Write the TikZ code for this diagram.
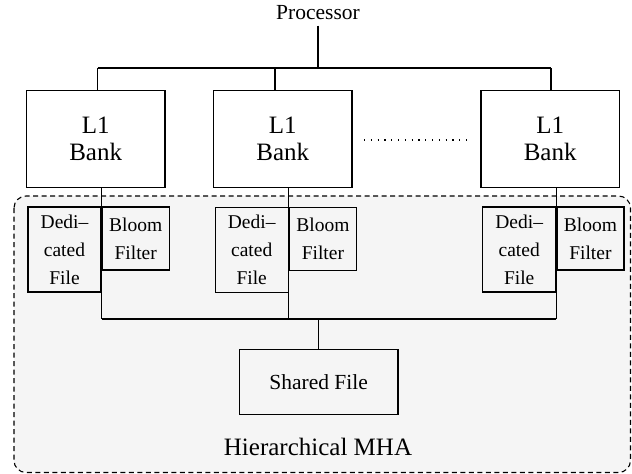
\documentclass[tikz,border=0pt]{standalone}
\usepackage{fontspec}
\setmainfont{Liberation Serif}
\begin{document}
\begin{tikzpicture}[x=1pt,y=-1pt,
  line width=1.2pt,
  box/.style={draw, inner sep=0pt, align=center},
  bank/.style={box, minimum width=138.5pt, minimum height=96.6pt, font=\fontsize{25}{27}\selectfont},
  ded/.style={box, minimum width=73pt, minimum height=85pt, font=\fontsize{19.5}{28}\selectfont},
  bloom/.style={box, minimum width=67pt, minimum height=63pt, font=\fontsize{19.5}{28}\selectfont},
  wire/.style={draw, line width=1.2pt},
  region/.style={draw, dashed, dash pattern=on 5pt off 3.5pt, fill=black!4, rounded corners=12pt, line width=1.1pt}
]
\useasboundingbox (0,0) rectangle (632,474);
% hierarchical MHA region
\path[region] (14,196) rectangle (630.5,472.5);
\node[font=\fontsize{25}{30}\selectfont] (mha) at (318,447) {Hierarchical MHA};

% processor
\node[font=\fontsize{21.5}{24}\selectfont, inner sep=0pt] (proc) at (318,13) {Processor};

% L1 banks
\node[bank] (L1a) at (95.7,139) {L1\\Bank};
\node[bank] (L1b) at (282.8,139) {L1\\Bank};
\node[bank] (L1c) at (550.2,139) {L1\\Bank};

% bus
\coordinate (bA) at (97.7,68);
\coordinate (bB) at (275,68);
\coordinate (bC) at (551,68);
\coordinate (bP) at (318,68);
\draw[wire] (bA) -- (bC);
\draw[wire] (bA) -- (bA |- L1a.north);
\draw[wire] (bB) -- (bB |- L1b.north);
\draw[wire] (bC) -- (bC |- L1c.north);
\draw[wire] (proc.south) ++(0,5) -- (bP);

% dotted
\coordinate (dl) at (364,140);
\coordinate (dr) at (469,140);
\draw[line width=1.2pt, dash pattern=on 1.2pt off 5.6pt] (dl) -- (dr);

% dedicated files and bloom filters
\node[ded] (d1) at (64.5,249.5) {Dedi--\\cated\\File};
\node[bloom, anchor=north west] (f1) at (d1.north east) {Bloom\\Filter};
\node[ded] (d2) at (251.7,249.8) {Dedi--\\cated\\File};
\node[bloom, anchor=north west] (f2) at (d2.north east) {Bloom\\Filter};
\node[ded] (d3) at (519.2,249.5) {Dedi--\\cated\\File};
\node[bloom, anchor=north west] (f3) at (d3.north east) {Bloom\\Filter};

% shared file
\node[box, minimum width=158.7pt, minimum height=64.3pt, font=\fontsize{21.5}{24}\selectfont] (sf) at (318.6,382) {Shared File};

% inner bus
\coordinate (ib1) at (d1.north east |- 0,319);
\coordinate (ib2) at (d2.north east |- 0,319);
\coordinate (ib3) at (d3.north east |- 0,319);
\draw[wire] (d1.north east |- L1a.south) -- (ib1);
\draw[wire] (d2.north east |- L1b.south) -- (ib2);
\draw[wire] (d3.north east |- L1c.south) -- (ib3);
\draw[wire] (ib1) -- (ib3);
\draw[wire] (sf.north) -- (sf.north |- ib1);
\end{tikzpicture}
\end{document}
